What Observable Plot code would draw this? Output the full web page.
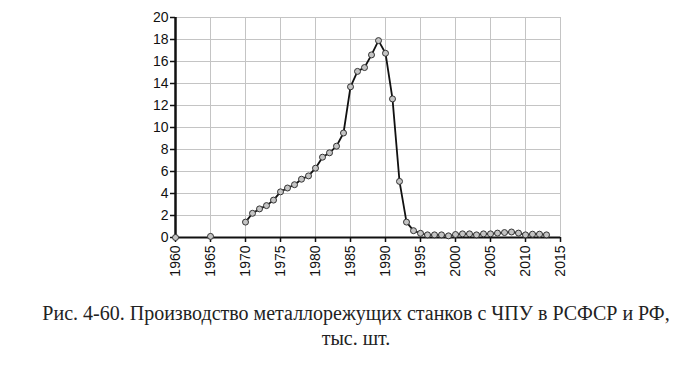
<!DOCTYPE html>
<html>
<head>
<meta charset="utf-8">
<script src="https://cdn.jsdelivr.net/npm/d3@7"></script>
<script src="https://cdn.jsdelivr.net/npm/@observablehq/plot@0.6"></script>
<style>
  body { margin: 0; background: #fff; }
  #chart { width: 700px; }
  .caption { font-family: "Liberation Serif", "DejaVu Serif", serif; font-size: 20px; color: #222; text-align: center; line-height: 25px; margin-top: 11px; padding-left: 12px; }
</style>
</head>
<body>
<div id="chart"></div>
<script>
const earlyYears = [1960, 1965];
const earlyValues = [0, 0.1];
const years = [1970,1971,1972,1973,1974,1975,1976,1977,1978,1979,1980,1981,1982,1983,1984,1985,1986,1987,1988,1989,1990,1991,1992,1993,1994,1995,1996,1997,1998,1999,2000,2001,2002,2003,2004,2005,2006,2007,2008,2009,2010,2011,2012,2013];
const values = [1.4,2.2,2.6,2.9,3.4,4.15,4.5,4.8,5.3,5.6,6.3,7.3,7.7,8.3,9.5,13.7,15.1,15.45,16.6,17.9,16.75,12.6,5.1,1.4,0.62,0.38,0.24,0.24,0.24,0.15,0.27,0.33,0.33,0.24,0.33,0.33,0.4,0.45,0.5,0.4,0.24,0.3,0.3,0.24];
const xTicks = [1960,1965,1970,1975,1980,1985,1990,1995,2000,2005,2010,2015];
const yTicks = [0,2,4,6,8,10,12,14,16,18,20];
const caption = ["Рис. 4-60. Производство металлорежущих станков с ЧПУ в РСФСР и РФ,", "тыс. шт."];

const main = years.map((y, i) => ({year: y, value: values[i]}));
const early = earlyYears.map((y, i) => ({year: y, value: earlyValues[i]}));

const chart = Plot.plot({
  width: 700,
  height: 290,
  marginLeft: 175,
  marginRight: 140,
  marginTop: 17,
  marginBottom: 53,
  style: {fontFamily: "Liberation Sans, Arial, sans-serif", fontSize: "14px", color: "#111"},
  x: {domain: [1960, 2015], ticks: xTicks, tickFormat: d => String(d)},
  y: {domain: [0, 20], ticks: yTicks},
  marks: [
    Plot.gridX(xTicks, {stroke: "#c4c4c4", strokeOpacity: 1, strokeWidth: 1}),
    Plot.gridY(yTicks, {stroke: "#c4c4c4", strokeOpacity: 1, strokeWidth: 1}),
    Plot.axisX({ticks: xTicks, tickRotate: -90, tickSize: 5, tickPadding: 3, label: null, tickFormat: d => String(d), stroke: "#111", strokeWidth: 1.5}),
    Plot.axisY({ticks: yTicks, tickSize: 5, tickPadding: 2, label: null, stroke: "#111", strokeWidth: 1.5}),
    Plot.ruleX([1960], {stroke: "#111", strokeWidth: 2.5}),
    Plot.ruleY([0], {stroke: "#111", strokeWidth: 2}),
    Plot.line(main, {x: "year", y: "value", stroke: "#111", strokeWidth: 1.8}),
    Plot.dot(main.concat(early), {x: "year", y: "value", r: 3, fill: "#c4c4c4", stroke: "#333", strokeWidth: 1})
  ]
});
document.getElementById("chart").appendChild(chart);
const cap = document.createElement("div");
cap.className = "caption";
cap.innerHTML = caption.join("<br>");
document.getElementById("chart").appendChild(cap);
</script>
</body>
</html>
